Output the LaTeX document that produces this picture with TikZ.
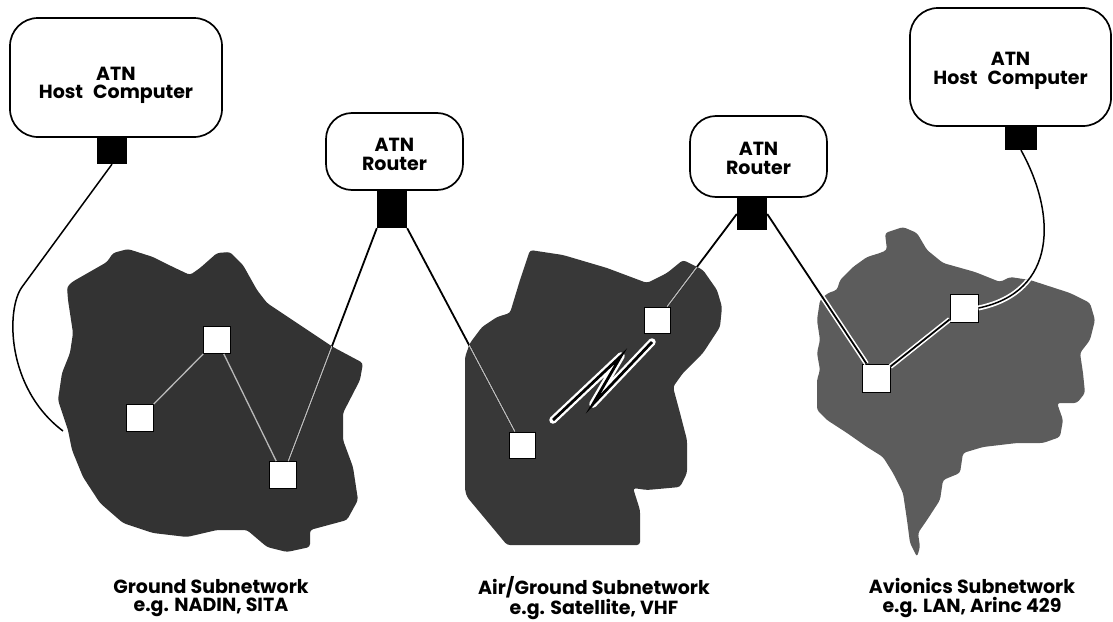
\documentclass[tikz,border=0pt]{standalone}
\usepackage{fontspec}
\setmainfont{Poppins}
\newcommand\atnfont{\bfseries\fontsize{19}{18.5}\selectfont}
\begin{document}
\begin{tikzpicture}[x=1pt,y=-1pt,
  roundbox/.style={draw, line width=1.7pt, rounded corners=28pt, fill=white, inner sep=0pt},
  boxtext/.style={align=center, font=\atnfont, inner sep=0pt},
  port/.style={fill=black, draw=none, inner sep=0pt},
  sq/.style={fill=white, draw=black, line width=0.8pt, minimum size=27pt, inner sep=0pt},
  link/.style={line width=1.8pt, black},
  innerlink/.style={line width=1.3pt, gray!55},
  halo/.style={line width=5pt, white},
  caption/.style={align=center, font=\atnfont}]
\useasboundingbox (0,0) rectangle (1113,621);

\def\blobL{(67,287) -- (72,282) -- (107,262) -- (113,253) -- (128,249) -- (153,257) -- (173,267) -- (190,275) -- (200,268) -- (217,253) -- (230,252) -- (243,265) -- (257,290) -- (267,303) -- (333,347) -- (363,363) -- (360,380) -- (343,413) -- (343,440) -- (353,467) -- (358,500) -- (347,520) -- (310,530) -- (310,547) -- (287,552) -- (267,547) -- (247,530) -- (217,530) -- (187,537) -- (153,533) -- (123,523) -- (100,503) -- (83,477) -- (72,450) -- (68,430) -- (58,400) -- (62,373) -- (70,353) -- (73,333) -- (68,300) -- cycle}
\def\blobM{(530,250) -- (563,255) -- (607,268) -- (647,283) -- (667,273) -- (683,260) -- (703,270) -- (717,290) -- (722,307) -- (720,327) -- (703,353) -- (683,373) -- (673,387) -- (680,413) -- (687,440) -- (687,473) -- (680,487) -- (647,490) -- (633,488) -- (640,510) -- (640,545) -- (507,545) -- (467,497) -- (465,490) -- (465,357) -- (470,343) -- (482,327) -- (497,317) -- (510,313) -- (520,280) -- cycle}
\def\blobR{(885,233) -- (903,227) -- (917,233) -- (927,250) -- (943,263) -- (975,272) -- (1000,282) -- (1010,277) -- (1030,280) -- (1070,293) -- (1090,303) -- (1095,320) -- (1090,340) -- (1080,353) -- (1083,373) -- (1085,393) -- (1077,403) -- (1057,403) -- (1063,420) -- (1060,437) -- (1043,443) -- (1017,443) -- (983,447) -- (963,453) -- (960,473) -- (943,480) -- (940,500) -- (927,520) -- (918,533) -- (920,547) -- (917,557) -- (910,543) -- (907,520) -- (903,493) -- (893,473) -- (883,457) -- (867,447) -- (847,433) -- (827,420) -- (817,410) -- (817,380) -- (820,370) -- (817,353) -- (820,340) -- (817,320) -- (820,300) -- (828,293) -- (837,290) -- (840,280) -- (853,267) -- (867,257) -- (880,253) -- (887,250) -- cycle}

% subnetwork areas
\fill[black!80, rounded corners=3pt] \blobL;
\fill[black!78, rounded corners=3pt] \blobM;
\fill[black!64, rounded corners=3pt] \blobR;

% boxes
\node[roundbox, minimum width=212pt, minimum height=119pt] (h1) at (116,77.5) {};
\node[boxtext] (t1) at ([yshift=-8pt]h1.center) {ATN\\Host\kern10pt Computer};
\node[roundbox, minimum width=201pt, minimum height=118pt] (h2) at (1010.5,67) {};
\node[boxtext] (t2) at ([yshift=-4pt]h2.center) {ATN\\Host\kern10pt Computer};
\node[roundbox, minimum width=137pt, minimum height=77pt, rounded corners=26pt] (r1) at (394.5,151.5) {};
\node[boxtext] (t3) at ([yshift=-3pt]r1.center) {ATN\\Router};
\node[roundbox, minimum width=137pt, minimum height=81pt, rounded corners=26pt] (r2) at (758.5,156.5) {};
\node[boxtext] (t4) at ([yshift=-2pt]r2.center) {ATN\\Router};

% ports
\node[port, minimum width=30pt, minimum height=27pt] (hp1) at (112,150.5) {};
\node[port, minimum width=32pt, minimum height=24pt] (hp2) at (1021,138) {};
\node[port, minimum width=30pt, minimum height=38pt] (rp1) at (392,209) {};
\node[port, minimum width=30pt, minimum height=32pt] (rp2) at (752,214) {};

% nodes in subnetworks
\node[sq] (L1) at (217,340) {};
\node[sq] (L2) at (140,418) {};
\node[sq] (L3) at (283,475) {};
\node[sq, minimum size=26pt] (mA) at (522,445) {};
\node[sq, minimum size=26pt] (mB) at (657,320) {};
\node[sq, minimum size=28pt] (rC) at (876,378) {};
\node[sq, minimum size=28pt] (rD) at (964,308) {};

\coordinate (cL) at (63,431);

% halos in avionics subnetwork
\begin{scope}
\clip \blobR;
\draw[halo] (rp2.east) -- (rC);
\draw[halo] (rC) -- (rD);
\draw[halo] (hp2.south) .. controls (1057,215) and (1057,292) .. (rD.east);
\end{scope}

% connectors
\draw[link, line width=1.5pt] (hp1.south) -- (22,287) .. controls (6,309) and (6,388) .. (cL);
\draw[link] (rp1.south west) -- (L3);
\draw[link] (rp1.south east) -- (mA);
\draw[link] (rp2.west) -- (mB);
\draw[link] (rp2.east) -- (rC);
\draw[link] (rC) -- (rD);
\draw[link, line width=1.5pt] (hp2.south) .. controls (1057,215) and (1057,292) .. (rD.east);

\begin{scope}
\clip \blobL;
\draw[innerlink] (rp1.south west) -- (L3);
\draw[innerlink] (L2) -- (L1);
\draw[innerlink] (L1) -- (L3);
\end{scope}
\begin{scope}
\clip \blobM;
\draw[innerlink] (rp1.south east) -- (mA);
\draw[innerlink] (rp2.west) -- (mB);
\end{scope}

% radio link (lightning)
\coordinate (z1) at (553,420);
\coordinate (z2) at (621,356);
\coordinate (z3) at (593,404);
\coordinate (z4) at (652,342);
\draw[halo, line width=7.5pt, line join=round, line cap=round] (z1) -- (z2) -- (z3) -- (z4);
\draw[black, line width=2.8pt, line join=miter] (z1) -- (z2) -- (z3) -- (z4);

% captions
\node[caption] (c1) at (211,598) {Ground Subnetwork\\e.g. NADIN, SITA};
\node[caption] (c2) at (594,598) {Air/Ground Subnetwork\\e.g. Satellite, VHF};
\node[caption] (c3) at (972,598) {Avionics Subnetwork\\e.g. LAN, Arinc 429};
\end{tikzpicture}
\end{document}
